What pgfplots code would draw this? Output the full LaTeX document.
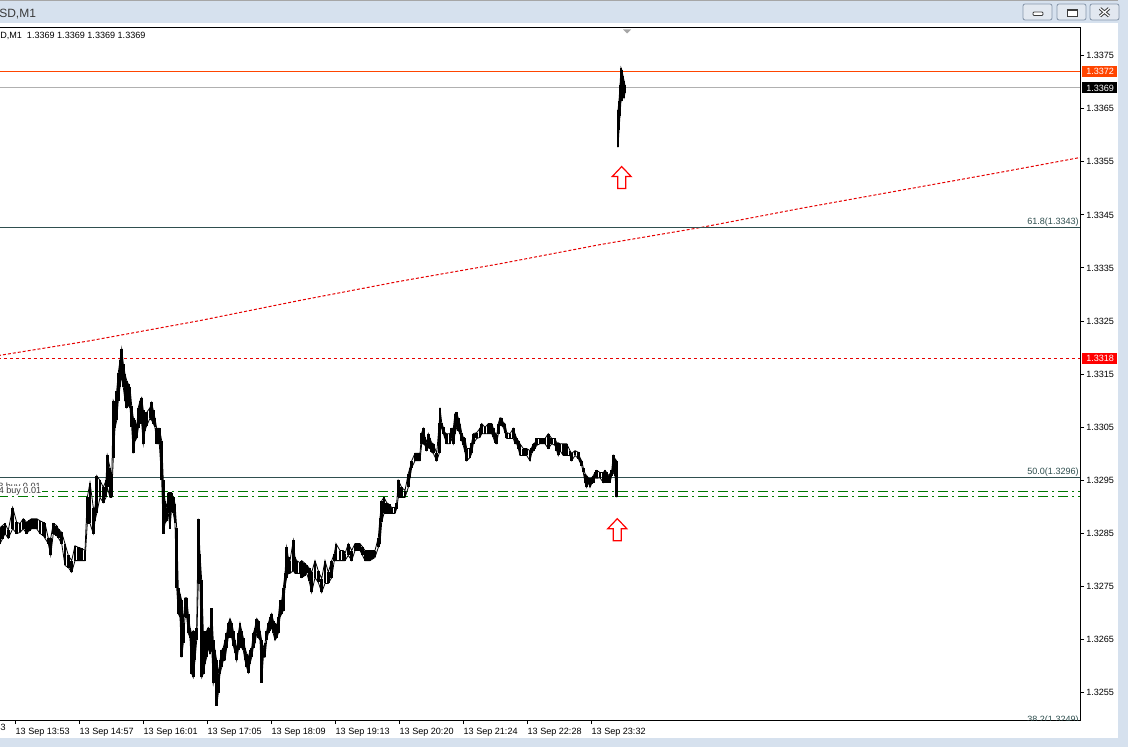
\documentclass[border=0pt]{standalone}
\usepackage{pgfplots}
\pgfplotsset{compat=1.18}
\usepackage{pgfplotstable}
\usepackage{fontspec}
\setmainfont{Liberation Sans}

\definecolor{fibline}{HTML}{2F4F4F}
\definecolor{tagorange}{RGB}{255,69,0}
\definecolor{askline}{HTML}{B0B0B0}
\definecolor{buygreen}{HTML}{007800}
\definecolor{maRed}{HTML}{E60000}
\definecolor{frameblue}{HTML}{D6E1EE}
\definecolor{btnborder}{HTML}{8696AA}
\definecolor{btnfill}{HTML}{E2E8F0}
\definecolor{icongray}{HTML}{3C3C3C}
\definecolor{labelgray}{HTML}{3A3A3A}

\newcommand{\mtfont}{\fontsize{6.8}{8}\selectfont}

% hollow up arrow, tip at the data point
\pgfdeclareplotmark{mtarrow}{%
  \pgfpathmoveto{\pgfqpoint{0pt}{0pt}}%
  \pgfpathlineto{\pgfqpoint{7.1pt}{-7.5pt}}%
  \pgfpathlineto{\pgfqpoint{3pt}{-7.5pt}}%
  \pgfpathlineto{\pgfqpoint{3pt}{-16.5pt}}%
  \pgfpathlineto{\pgfqpoint{-3pt}{-16.5pt}}%
  \pgfpathlineto{\pgfqpoint{-3pt}{-7.5pt}}%
  \pgfpathlineto{\pgfqpoint{-7.1pt}{-7.5pt}}%
  \pgfpathclose
  \pgfusepathqfillstroke}

% one-minute bars: bar index, high, low
\pgfplotstableread{
x hi lo
-2 1.32861 1.32831
0 1.32861 1.32831
2.5 1.32865 1.32840
5 1.32869 1.32850
8.3 1.32856 1.32841
12.7 1.32899 1.32859
16.7 1.32871 1.32850
20 1.32869 1.32852
23.3 1.32878 1.32859
26.7 1.32871 1.32850
29.2 1.32875 1.32855
31.7 1.32878 1.32859
34.2 1.32878 1.32859
36.7 1.32878 1.32859
40 1.32874 1.32850
43.3 1.32871 1.32846
45 1.32869 1.32841
48.3 1.32841 1.32831
50.7 1.32841 1.32809
53.3 1.32869 1.32850
56.7 1.32865 1.32846
58.3 1.32859 1.32842
61.7 1.32852 1.32831
65 1.32831 1.32790
68.3 1.32809 1.32786
71.7 1.32799 1.32777
75 1.32827 1.32799
78.3 1.32824 1.32799
81.7 1.32822 1.32799
85 1.32818 1.32799
87.3 1.32918 1.32869
90 1.32946 1.32869
93.3 1.32899 1.32850
95 1.32897 1.32874
96.7 1.32959 1.32888
100 1.32950 1.32918
103.3 1.32937 1.32908
106 1.32950 1.32918
107.3 1.32997 1.32937
110 1.32974 1.32918
111.7 1.32950 1.32918
113.3 1.33100 1.32993
115 1.33091 1.33048
116.7 1.33119 1.33063
118.3 1.33153 1.33100
120 1.33176 1.33125
121.7 1.33198 1.33147
123.3 1.33170 1.33125
125 1.33151 1.33100
126.7 1.33138 1.33087
128.3 1.33132 1.33091
130 1.33125 1.33087
131.7 1.33091 1.33050
133.3 1.33068 1.33001
135 1.33063 1.33025
136.7 1.33050 1.33029
138.3 1.33087 1.33048
140 1.33100 1.33063
141.7 1.33106 1.33057
143.3 1.33082 1.33019
145 1.33067 1.33044
146.7 1.33078 1.33053
150 1.33087 1.33067
151.7 1.33097 1.33063
153.3 1.33082 1.33057
155 1.33067 1.33050
156.7 1.33048 1.33019
159.3 1.33048 1.33019
161.7 1.33025 1.32950
163.3 1.32950 1.32850
165 1.32912 1.32869
166.7 1.32899 1.32874
168.3 1.32927 1.32888
170 1.32927 1.32859
171.7 1.32927 1.32899
173.3 1.32918 1.32888
175 1.32906 1.32869
176.7 1.32861 1.32748
178.3 1.32748 1.32699
180 1.32737 1.32692
181.7 1.32724 1.32617
183.3 1.32681 1.32643
185 1.32729 1.32692
186.7 1.32729 1.32692
188.3 1.32699 1.32662
190 1.32673 1.32654
191.7 1.32662 1.32586
193.3 1.32667 1.32579
195 1.32662 1.32611
196.7 1.32673 1.32649
198.3 1.32878 1.32756
200 1.32812 1.32756
201.7 1.32762 1.32579
203.3 1.32667 1.32586
205 1.32654 1.32605
206.7 1.32667 1.32617
208.3 1.32673 1.32635
210 1.32667 1.32624
211.7 1.32709 1.32635
213.3 1.32649 1.32568
215 1.32630 1.32586
216.7 1.32611 1.32526
218.3 1.32586 1.32549
220 1.32611 1.32586
221.7 1.32630 1.32598
223.3 1.32635 1.32611
225 1.32649 1.32611
226.7 1.32662 1.32635
228.3 1.32681 1.32654
230 1.32690 1.32662
231.7 1.32682 1.32654
233.3 1.32667 1.32639
235 1.32649 1.32626
236.7 1.32630 1.32611
238.3 1.32662 1.32630
240 1.32681 1.32654
241.7 1.32667 1.32635
243.3 1.32654 1.32630
245 1.32635 1.32611
246.7 1.32624 1.32598
248.3 1.32617 1.32588
250 1.32630 1.32605
251.7 1.32635 1.32617
253.3 1.32662 1.32635
255 1.32673 1.32643
256.7 1.32690 1.32662
258.3 1.32686 1.32654
260 1.32667 1.32649
261.7 1.32649 1.32569
263.3 1.32635 1.32617
265 1.32643 1.32617
266.7 1.32667 1.32649
268.3 1.32681 1.32662
270 1.32692 1.32667
271.7 1.32699 1.32673
273.3 1.32686 1.32662
275 1.32681 1.32649
276.7 1.32677 1.32654
278.3 1.32692 1.32662
280 1.32724 1.32692
281.7 1.32724 1.32699
283.3 1.32748 1.32705
285 1.32775 1.32748
286.7 1.32824 1.32767
288.3 1.32805 1.32775
290 1.32799 1.32775
293.3 1.32837 1.32780
295 1.32805 1.32775
296.7 1.32799 1.32775
300 1.32795 1.32775
301.7 1.32799 1.32767
304.2 1.32795 1.32770
306.7 1.32790 1.32775
309.2 1.32785 1.32760
311.7 1.32777 1.32739
315 1.32799 1.32767
318.3 1.32780 1.32758
321.7 1.32765 1.32739
325 1.32799 1.32756
328.3 1.32777 1.32756
331.7 1.32799 1.32767
334.3 1.32812 1.32799
336 1.32831 1.32799
340 1.32818 1.32799
343.3 1.32818 1.32799
345 1.32812 1.32799
348.3 1.32831 1.32809
351.7 1.32818 1.32799
355 1.32831 1.32818
357.5 1.32831 1.32818
360 1.32831 1.32818
362.5 1.32825 1.32809
365 1.32818 1.32799
367.5 1.32818 1.32799
370 1.32818 1.32799
372.5 1.32818 1.32802
375 1.32818 1.32805
378.3 1.32842 1.32824
380 1.32880 1.32831
381.7 1.32912 1.32871
384 1.32918 1.32888
386.7 1.32908 1.32888
389.2 1.32905 1.32888
391.7 1.32899 1.32888
395 1.32899 1.32888
396.7 1.32908 1.32897
398.3 1.32950 1.32918
401.7 1.32937 1.32918
405 1.32931 1.32918
408.3 1.32963 1.32937
410 1.32974 1.32955
411.7 1.32987 1.32974
415 1.33001 1.32987
417.5 1.33001 1.32987
420 1.33001 1.32987
421.7 1.33040 1.33019
423.3 1.33048 1.33019
425 1.33031 1.33016
426.7 1.33021 1.33006
428.3 1.33038 1.33012
430 1.33029 1.33010
431.7 1.33021 1.33003
433.3 1.33019 1.33001
436.7 1.33001 1.32987
439.3 1.33059 1.33001
440 1.33087 1.33050
441.7 1.33059 1.33048
443.3 1.33050 1.33038
445 1.33040 1.33029
446.7 1.33038 1.33019
450 1.33038 1.33019
451.7 1.33048 1.33029
453.3 1.33048 1.33019
455 1.33076 1.33038
456.7 1.33078 1.33050
458.3 1.33067 1.33044
460 1.33057 1.33038
461.7 1.33040 1.33025
463.3 1.33031 1.33016
465 1.33029 1.33003
466.7 1.33010 1.32987
470 1.33010 1.32993
471.7 1.33021 1.33001
473.3 1.33038 1.33019
476.7 1.33040 1.33029
480 1.33048 1.33031
481.7 1.33057 1.33038
485 1.33050 1.33038
488.3 1.33057 1.33038
491.7 1.33057 1.33038
493.3 1.33048 1.33031
495 1.33040 1.33021
496.7 1.33035 1.33019
498.3 1.33057 1.33038
500 1.33068 1.33057
501.7 1.33067 1.33053
503.3 1.33059 1.33050
505 1.33057 1.33040
506.7 1.33040 1.33029
510 1.33038 1.33029
513.3 1.33048 1.33029
515 1.33038 1.33019
516.7 1.33029 1.33019
518.3 1.33025 1.33010
520 1.33019 1.32997
523.3 1.33010 1.32997
526.7 1.33010 1.32997
530 1.33006 1.32987
531.7 1.33012 1.33001
533.3 1.33019 1.33006
535 1.33021 1.33010
536.7 1.33029 1.33016
540 1.33029 1.33019
542.5 1.33029 1.33019
545 1.33029 1.33019
548.3 1.33038 1.33010
551.7 1.33029 1.33019
555 1.33029 1.33016
556.7 1.33021 1.33006
558.3 1.33021 1.32997
560 1.33019 1.33006
563.3 1.33019 1.32997
566.7 1.33019 1.32997
570 1.33006 1.32997
571.7 1.33001 1.32987
575 1.33006 1.32997
578.3 1.33003 1.32991
580 1.32993 1.32984
581.7 1.32987 1.32978
583.3 1.32974 1.32965
585 1.32963 1.32946
586.7 1.32959 1.32937
588.3 1.32955 1.32946
590 1.32950 1.32937
591.7 1.32955 1.32944
593.3 1.32959 1.32946
595 1.32965 1.32955
596.7 1.32969 1.32954
600 1.32965 1.32955
603.3 1.32965 1.32946
605 1.32969 1.32954
606.7 1.32965 1.32946
608.3 1.32959 1.32946
610 1.32963 1.32946
611.7 1.32969 1.32959
613.3 1.32997 1.32965
615 1.32991 1.32959
616.7 1.32987 1.32918
}\pricetab

% bars after the gap
\pgfplotstableread{
x hi lo
618 1.33647 1.33577
619 1.33665 1.33609
620 1.33694 1.33637
621 1.33727 1.33665
622 1.33722 1.33665
623 1.33712 1.33675
624 1.33703 1.33670
625 1.33694 1.33680
}\gaptab

\tikzset{px/.style={x=0.75pt,y=-0.75pt,shift={(1.5pt,540pt)}}}
\pgfplotsset{
  barrange/.style={black, line width=0.6pt,
    error bars/.cd, y dir=plus, y explicit, error mark=none,
    error bar style={black, line width=2.2pt}},
  hline/.style={draw=#1, line width=0.75pt, mark=none},
}

\begin{document}
\begin{tikzpicture}
% white chart background
\fill[px, white] (0,0) rectangle (1128,747);

\begin{axis}[
  at={(0pt,0pt)}, anchor=south west,
  scale only axis, width=811.5pt, height=519pt,
  xmin=-2, xmax=1080, ymin=1.324989, ymax=1.338019,
  axis line style={line width=0.75pt, black},
  xtick pos=left, ytick pos=right, yticklabel pos=right,
  tick align=outside, major tick length=3pt,
  tick style={black, line width=0.75pt},
  xtick={15.4,79.4,143.4,207.4,271.4,335.4,399.4,463.4,527.4,591.4},
  xticklabels={13 Sep 13:53,13 Sep 14:57,13 Sep 16:01,13 Sep 17:05,13 Sep 18:09,13 Sep 19:13,13 Sep 20:20,13 Sep 21:24,13 Sep 22:28,13 Sep 23:32},
  ytick={1.3255,1.3265,1.3275,1.3285,1.3295,1.3305,1.3315,1.3325,1.3335,1.3345,1.3355,1.3365,1.3375},
  yticklabels={1.3255,1.3265,1.3275,1.3285,1.3295,1.3305,1.3315,1.3325,1.3335,1.3345,1.3355,1.3365,1.3375},
  tick label style={font=\mtfont, inner sep=0pt, text=black},
  xticklabel style={anchor=north west, yshift=-3pt},
  yticklabel style={anchor=west, xshift=1.5pt},
]
% moving average
\addplot[hline=maRed, dash pattern=on 2.25pt off 1.5pt] coordinates {
  (-2,1.33185) (90,1.33213) (200,1.33251) (300,1.33289) (400,1.33325) (500,1.33358)
  (600,1.33394) (700,1.33426) (800,1.33462) (900,1.33496) (1000,1.33530) (1080,1.33558)};
% price levels
\addplot[hline=askline] coordinates {(-2,1.3369) (1080,1.3369)};
\addplot[hline=fibline] coordinates {(-2,1.33426) (1080,1.33426)};
\addplot[hline=fibline] coordinates {(-2,1.32955) (1080,1.32955)};
\addplot[hline=maRed, dash pattern=on 2.25pt off 2.25pt] coordinates {(-2,1.3318) (1080,1.3318)};
\addplot[hline=buygreen, dash pattern=on 7.5pt off 3pt on 1.5pt off 3pt] coordinates {(-2,1.32930) (1080,1.32930)};
\addplot[hline=buygreen, dash pattern=on 7.5pt off 3pt on 1.5pt off 3pt] coordinates {(-2,1.32920) (1080,1.32920)};
% bars: high line, then low line with a range bar up to the high
\addplot[black, line width=0.6pt] table[x=x, y=hi] {\pricetab};
\addplot[barrange] table[x=x, y=lo, y error expr=\thisrow{hi}-\thisrow{lo}] {\pricetab};
% bid line
\addplot[draw={rgb,255:red,255;green,69;blue,0}, line width=0.75pt, mark=none] coordinates {(-2,1.3372) (1080,1.3372)};
\addplot[black, line width=0.6pt] table[x=x, y=hi] {\gaptab};
\addplot[barrange] table[x=x, y=lo, y error expr=\thisrow{hi}-\thisrow{lo}] {\gaptab};
% signal arrows
\addplot[only marks, mark=mtarrow, mark options={draw=red, fill=white, line width=0.9pt}]
  coordinates {(621.7,1.33541) (617.3,1.32878)};
\end{axis}

\begin{scope}[px]
  \tikzset{every node/.style={font=\mtfont, inner sep=0pt}}
  % level captions
  \node[anchor=base east, text=fibline] at (1079,224.5) {61.8(1.3343)};
  \node[anchor=base east, text=fibline] at (1079,474.5) {50.0(1.3296)};
  \begin{scope}
    \clip (-2,28) rectangle (1080,720);
    \node[anchor=base east, text=fibline] at (1079,722.5) {38.2(1.3249)};
  \end{scope}
  \node[anchor=base west, text=labelgray] at (-2,489) {3 buy 0.01};
  \node[anchor=base west, text=labelgray, fill=white, inner sep=0.4pt] at (-2,493.6) {4 buy 0.01};
  % price tags on the scale
  \fill[tagorange] (1082,66) rectangle (1118,77);
  \node[anchor=west, text=white] at (1086,71.5) {1.3372};
  \fill[black] (1082,82.5) rectangle (1118,93.5);
  \node[anchor=west, text=white] at (1086,88) {1.3369};
  \fill[red] (1082,353) rectangle (1118,364);
  \node[anchor=west, text=white] at (1086,358.5) {1.3318};
  % cut-off time label at the left edge
  \node[anchor=north west] at (-48.6,724) {13 Sep 12:43};
  % chart shift marker
  \fill[gray!70] (623,29.5) -- (631,29.5) -- (627,33.5) -- cycle;
  % data window line
  \node[anchor=base west, text=black] at (0,39) {D,M1~ 1.3369 1.3369 1.3369 1.3369};
  % window frame
  \fill[frameblue] (0,0) rectangle (1128,23.5);
  \draw[gray!70, line width=0.75pt] (0,0.5) -- (1128,0.5);
  \draw[white, line width=0.75pt] (0,24.5) -- (1118,24.5);
  \fill[frameblue] (1118,0) rectangle (1128,747);
  \fill[frameblue] (0,738) rectangle (1128,747);
  \draw[white, line width=0.75pt] (1117.5,24) -- (1117.5,737.5) -- (0,737.5);
  \node[anchor=base west, font=\fontsize{9}{11}\selectfont, text=labelgray] at (-1,17.5) {SD,M1};
  % window buttons
  \foreach \bx in {1023,1057,1090} {
    \draw[btnborder, fill=btnfill, rounded corners=1.5pt, line width=0.6pt] (\bx,4) rectangle (\bx+29,20);
  }
  \draw[icongray, fill=white, rounded corners=0.8pt, line width=0.7pt] (1033,12) rectangle (1043,15.5);
  \draw[icongray, fill=white, line width=0.7pt] (1067,9) rectangle (1077,16);
  \draw[icongray, line width=1.2pt] (1067,9.8) -- (1077,9.8);
  \draw[icongray, line width=2.4pt] (1100,8.5) -- (1109,16) (1109,8.5) -- (1100,16);
  \draw[white, line width=0.9pt] (1100,8.5) -- (1109,16) (1109,8.5) -- (1100,16);
\end{scope}

% page = the chart window
\pgfresetboundingbox
\path[px, use as bounding box] (0,0) rectangle (1128,747);
\end{tikzpicture}
\end{document}
